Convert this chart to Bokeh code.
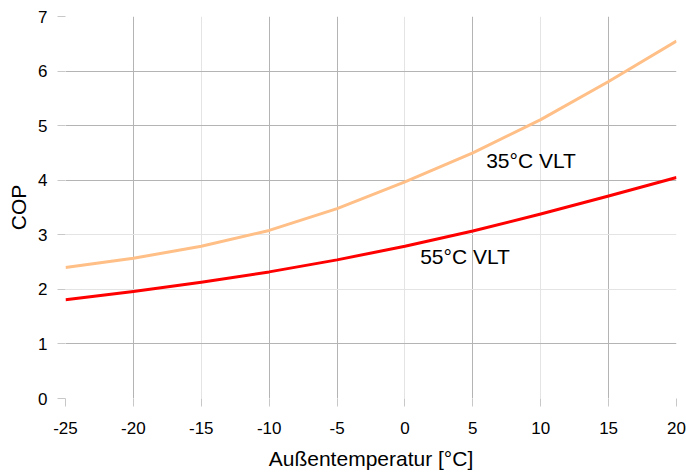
from bokeh.plotting import figure
from bokeh.models import Range1d, FixedTicker, Grid, ColumnDataSource
from bokeh.core.properties import value
from bokeh.embed import file_html
from bokeh.resources import INLINE

# data
temp = [-25, -20, -15, -10, -5, 0, 5, 10, 15, 20]
cop_35 = [2.40, 2.57, 2.79, 3.08, 3.48, 3.97, 4.50, 5.11, 5.81, 6.55]
cop_55 = [1.81, 1.96, 2.13, 2.32, 2.54, 2.79, 3.07, 3.38, 3.71, 4.05]

x_ticks = [-25, -20, -15, -10, -5, 0, 5, 10, 15, 20]
x_tick_labels = ["-25", "-20", "-15", "-10", "-5", "0", "5", "10", "15", "20"]
y_ticks = [0, 1, 2, 3, 4, 5, 6, 7]
y_tick_labels = ["0", "1", "2", "3", "4", "5", "6", "7"]

series_labels = ["35°C VLT", "55°C VLT"]
label_x = [5.98, 1.12]
label_y = [4.36, 2.60]

FONT = "Liberation Sans"

p = figure(width=686, height=472, output_backend="svg", toolbar_location=None,
           x_range=Range1d(-25, 20), y_range=Range1d(0, 7),
           min_border_left=65, min_border_right=10, min_border_top=16, min_border_bottom=71)
p.outline_line_color = None
p.background_fill_color = "white"
p.border_fill_color = "white"

p.xgrid.grid_line_color = None
p.ygrid.grid_line_color = None

dark = "#b4b4b4"
light = "#e4e4e4"
p.add_layout(Grid(dimension=0, ticker=FixedTicker(ticks=[-20, -10, -5, 5, 15]), grid_line_color=dark))
p.add_layout(Grid(dimension=0, ticker=FixedTicker(ticks=[-25, -15, 0, 10, 20]), grid_line_color=light))
p.add_layout(Grid(dimension=1, ticker=FixedTicker(ticks=[1, 4, 5, 6, 7]), grid_line_color=dark))
p.add_layout(Grid(dimension=1, ticker=FixedTicker(ticks=[0, 2, 3]), grid_line_color=light))

for ax in (p.xaxis[0], p.yaxis[0]):
    ax.axis_line_color = None
    ax.major_tick_line_color = "#c8c8c8"
    ax.major_tick_out = 8
    ax.major_tick_in = 0
    ax.minor_tick_line_color = None
    ax.major_label_text_font = FONT
    ax.major_label_text_font_size = "17px"
    ax.major_label_text_color = "#000000"
    ax.axis_label_text_font = FONT
    ax.axis_label_text_font_size = "21px"
    ax.axis_label_text_font_style = "normal"
    ax.axis_label_text_color = "#000000"

p.xaxis.ticker = FixedTicker(ticks=x_ticks)
p.xaxis.major_label_overrides = dict(zip(x_ticks, x_tick_labels))
p.yaxis.ticker = FixedTicker(ticks=y_ticks)
p.yaxis.major_label_overrides = dict(zip(y_ticks, y_tick_labels))
p.xaxis.axis_label = "Außentemperatur [°C]"
p.yaxis.axis_label = "COP"
p.xaxis.major_label_standoff = 15
p.xaxis.axis_label_standoff = 10
p.yaxis.major_label_standoff = 10
p.yaxis.axis_label_standoff = 5

src = ColumnDataSource(dict(t=temp, a=cop_35, b=cop_55))
p.line("t", "a", source=src, line_color="#ffbf86", line_width=3, line_join="round")
p.line("t", "b", source=src, line_color="#ff0000", line_width=3, line_join="round")

p.text(x=label_x, y=label_y, text=series_labels, text_font=value(FONT),
       text_font_size="21px", text_color="#000000", text_align="left",
       text_baseline="alphabetic")

open("out.html", "w").write(file_html(p, INLINE))
